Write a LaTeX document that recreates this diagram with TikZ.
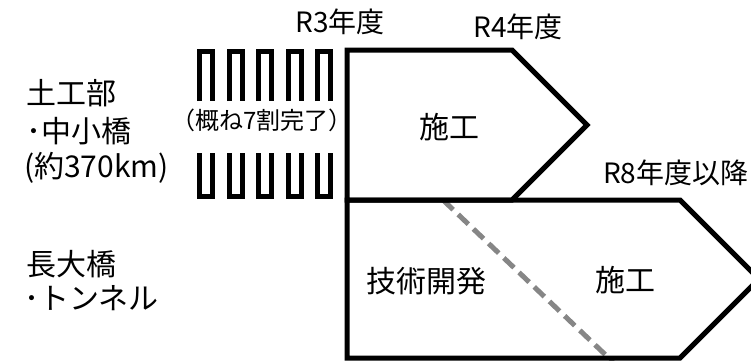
\documentclass[tikz,border=0pt]{standalone}
\usepackage{fontspec}
\newfontfamily\jp{Noto Sans CJK JP}
\tikzset{
  lbl/.style={inner sep=0pt, font=\jp\fontsize{30}{34}\selectfont},
  yr/.style={inner sep=0pt, font=\jp\fontsize{28}{32}\selectfont},
  sml/.style={inner sep=0pt, font=\jp\fontsize{24}{28}\selectfont},
  outline/.style={line width=5pt, line join=miter},
  comb/.style={line width=5pt, line join=miter},
  split/.style={line width=5pt, draw=gray!95, dash pattern=on 14pt off 7pt}
}
\begin{document}
\begin{tikzpicture}[x=1pt,y=-1pt]
\useasboundingbox (0,0) rectangle (751,360);
% combs
\foreach \i in {0,...,4}{
  \pgfmathsetmacro{\xl}{199.5+29.5*\i}
  \pgfmathsetmacro{\xr}{\xl+13}
  \draw[comb] (\xl,101) -- (\xl,51) -- (\xr,51) -- (\xr,101);
  \draw[comb] (\xl,153) -- (\xl,196) -- (\xr,196) -- (\xr,153);
}
% dashed split
\coordinate (ds) at (443,200);
\coordinate (de) at (613,362);
\draw[split] (ds) -- (de);
% pentagons
\draw[outline] (347,50) -- (512,50) -- (587,125) -- (512,200) -- (347,200) -- cycle;
\draw[outline] (347,200) -- (680,200) -- (759,279) -- (680,358) -- (347,358) -- cycle;
% labels
\node[yr] (r3) at (340,22) {R3年度};
\node[yr] (r4) at (518,27) {R4年度};
\node[yr,anchor=west] (r8) at (603,173) {R8年度以降};
\node[lbl,anchor=west] (a1) at (26,93) {土工部};
\node[lbl,anchor=west] (a2) at (26,131) {･中小橋};
\node[lbl,anchor=west] (a3) at (24,168) {(約370km)};
\node[lbl,anchor=west] (b1) at (26,264) {長大橋};
\node[lbl,anchor=west] (b2) at (24,298) {･トンネル};
\node[sml] (c1) at (262,120) {（概ね7割完了）};
\node[lbl] (s1) at (449,127) {施工};
\node[lbl] (t1) at (426,281) {技術開発};
\node[lbl] (s2) at (625,280) {施工};
\end{tikzpicture}
\end{document}
